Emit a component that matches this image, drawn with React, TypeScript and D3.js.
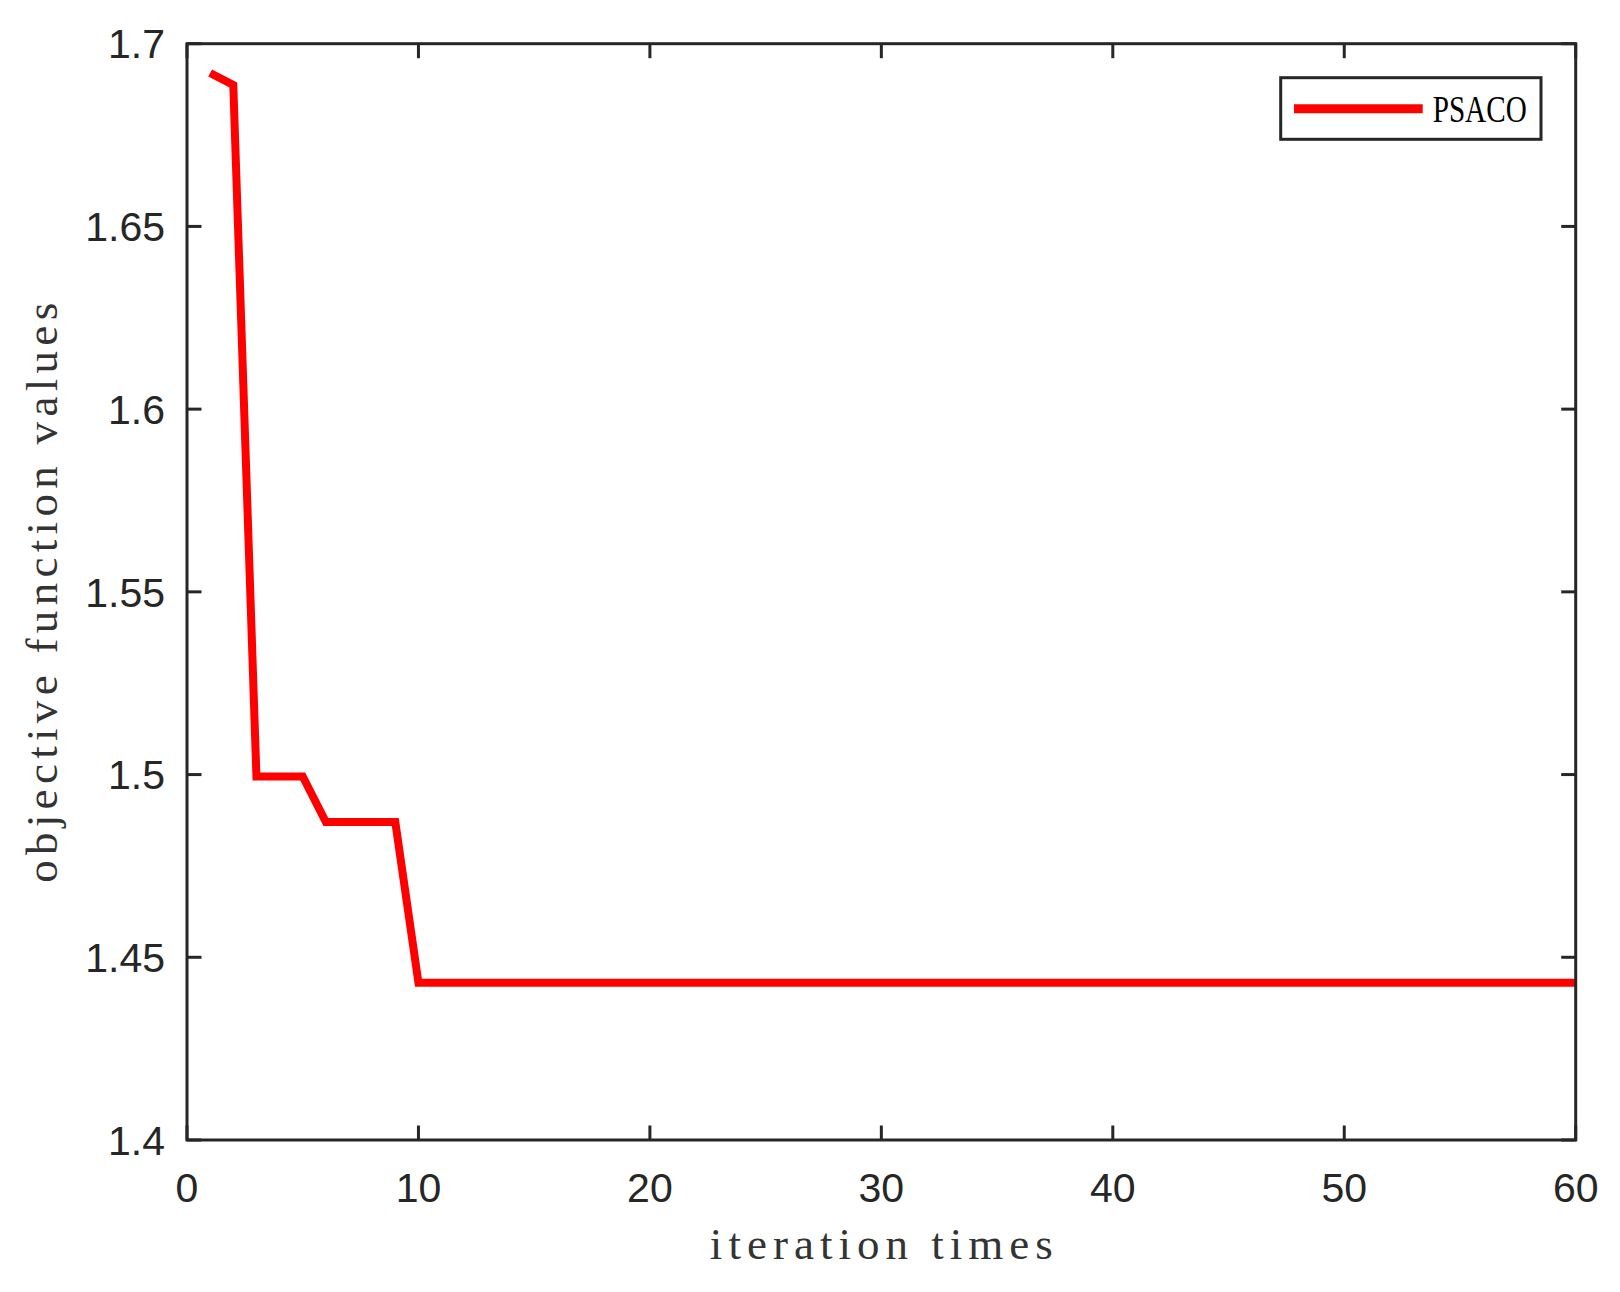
import React from "react";
import * as d3 from "d3";

const iterations: number[] = [
  1, 2, 3, 4, 5, 6, 7, 8, 9, 10,
  11, 12, 13, 14, 15, 16, 17, 18, 19, 20,
  21, 22, 23, 24, 25, 26, 27, 28, 29, 30,
  31, 32, 33, 34, 35, 36, 37, 38, 39, 40,
  41, 42, 43, 44, 45, 46, 47, 48, 49, 50,
  51, 52, 53, 54, 55, 56, 57, 58, 59, 60,
];
const psacoValues: number[] = [
  1.692, 1.6887, 1.4995, 1.4995, 1.4995, 1.487, 1.487, 1.487, 1.487, 1.443,
  1.443, 1.443, 1.443, 1.443, 1.443, 1.443, 1.443, 1.443, 1.443, 1.443,
  1.443, 1.443, 1.443, 1.443, 1.443, 1.443, 1.443, 1.443, 1.443, 1.443,
  1.443, 1.443, 1.443, 1.443, 1.443, 1.443, 1.443, 1.443, 1.443, 1.443,
  1.443, 1.443, 1.443, 1.443, 1.443, 1.443, 1.443, 1.443, 1.443, 1.443,
  1.443, 1.443, 1.443, 1.443, 1.443, 1.443, 1.443, 1.443, 1.443, 1.443,
];
const xTicks: number[] = [0, 10, 20, 30, 40, 50, 60];
const yTicks: number[] = [1.4, 1.45, 1.5, 1.55, 1.6, 1.65, 1.7];
const yTickLabels: string[] = ["1.4", "1.45", "1.5", "1.55", "1.6", "1.65", "1.7"];
const seriesName = "PSACO";
const xLabel = "iteration times";
const yLabel = "objective function values";

const W = 1620;
const H = 1292;
const L = 187;
const R = 1575.7;
const T = 43.7;
const B = 1140;
const AX = "#262626";

export default function App() {
  const x = d3.scaleLinear().domain([0, 60]).range([L, R]);
  const y = d3.scaleLinear().domain([1.4, 1.7]).range([B, T]);
  const pts: [number, number][] = iterations.map((it, i) => [it, psacoValues[i]]);
  const line = d3
    .line<[number, number]>()
    .x((d) => x(d[0]))
    .y((d) => y(d[1]));
  const tickLen = 14.5;
  const tickFont = "Liberation Sans, Arial, sans-serif";
  const serif = "Liberation Serif, 'Times New Roman', serif";

  return (
    <svg
      width={W}
      height={H}
      viewBox={`0 0 ${W} ${H}`}
      style={{ position: "absolute", left: 0, top: 0, background: "#fff" }}
    >
      <rect x={0} y={0} width={W} height={H} fill="#fff" />
      <defs>
        <clipPath id="plotClip">
          <rect x={L} y={T} width={R - L} height={B - T} />
        </clipPath>
      </defs>
      <path
        d={line(pts) || ""}
        fill="none"
        stroke="#FF0000"
        strokeWidth={8}
        strokeLinejoin="miter"
        strokeLinecap="butt"
        clipPath="url(#plotClip)"
      />
      {xTicks.map((t) => (
        <g key={"xt" + t}>
          <line x1={x(t)} x2={x(t)} y1={B} y2={B - tickLen} stroke={AX} strokeWidth={3} />
          <line x1={x(t)} x2={x(t)} y1={T} y2={T + tickLen} stroke={AX} strokeWidth={3} />
          <text
            x={x(t)}
            y={1202}
            textAnchor="middle"
            fontFamily={tickFont}
            fontSize={41}
            fill={AX}
          >
            {String(t)}
          </text>
        </g>
      ))}
      {yTicks.map((t, i) => (
        <g key={"yt" + t}>
          <line x1={L} x2={L + tickLen} y1={y(t)} y2={y(t)} stroke={AX} strokeWidth={3} />
          <line x1={R} x2={R - tickLen} y1={y(t)} y2={y(t)} stroke={AX} strokeWidth={3} />
          <text
            x={165}
            y={y(t)}
            dy="0.36em"
            textAnchor="end"
            fontFamily={tickFont}
            fontSize={41}
            fill={AX}
          >
            {yTickLabels[i]}
          </text>
        </g>
      ))}
      <rect x={L} y={T} width={R - L} height={B - T} fill="none" stroke={AX} strokeWidth={3} />
      <text
        x={(L + R) / 2}
        y={1259}
        textAnchor="middle"
        fontFamily={serif}
        fontSize={45}
        fontWeight={300}
        fill="#333"
        textLength={343}
        lengthAdjust="spacing"
      >
        {xLabel}
      </text>
      <text
        transform={`translate(57, ${(T + B) / 2 + 1}) rotate(-90)`}
        textAnchor="middle"
        fontFamily={serif}
        fontSize={45}
        fontWeight={300}
        fill="#333"
        textLength={580}
        lengthAdjust="spacing"
      >
        {yLabel}
      </text>
      <rect x={1280.7} y={77.7} width={260.3} height={61.6} fill="#fff" stroke={AX} strokeWidth={3} />
      <line x1={1294} x2={1422.7} y1={108.7} y2={108.7} stroke="#FF0000" strokeWidth={9} />
      <text
        x={1432.7}
        y={122}
        fontFamily={serif}
        fontSize={38}
        fill="#000"
        textLength={94}
        lengthAdjust="spacingAndGlyphs"
      >
        {seriesName}
      </text>
    </svg>
  );
}
